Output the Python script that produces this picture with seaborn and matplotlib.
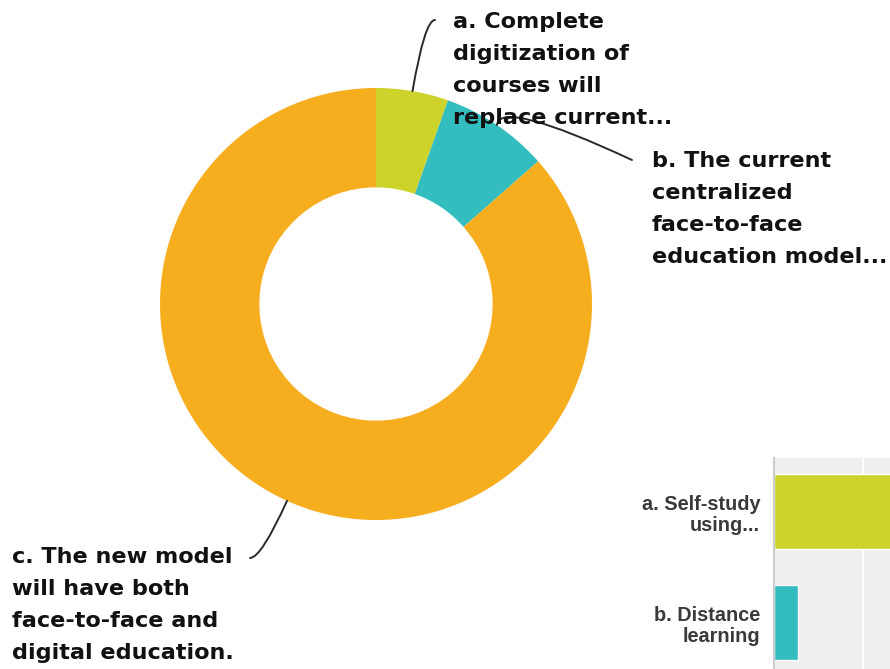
import numpy as np
import pandas as pd
import matplotlib
matplotlib.use("Agg")
import matplotlib.pyplot as plt
import seaborn as sns

# donut: answers of 37 respondents
pie_labels = [
    "a. Complete\ndigitization of\ncourses will\nreplace current...",
    "b. The current\ncentralized\nface-to-face\neducation model...",
    "c. The new model\nwill have both\nface-to-face and\ndigital education.",
]
pie_counts = [2, 3, 32]
pie_colors = ["#cdd32a", "#34bdbe", "#f6ae1f"]

# second panel (bar chart, cut off at the right edge of the picture)
bar_labels = ["a. Self-study\nusing...", "b. Distance\nlearning"]
bar_values = [40.5, 2.7]
bar_colors = ["#cdd32a", "#34bdbe"]

W, H = 890, 669


def fx(x):
    return x / W


def fy(y):
    return 1 - y / H


# label layout in pixels: text left / first baseline, leader end, angle at leader end
text_pos = [(453, 28), (652, 167), (12, 563)]
leader_ends = [(435, 20), (632, 160), (250, 558)]
leader_end_angles = [0, 155, 0]
leader_start_tilt = [0, 28, 0]  # bend leader away from the radial direction
line_step = 32

sns.set_theme(style="white")
plt.rcParams["font.family"] = ["DejaVu Sans"]

fig = plt.figure(figsize=(W / 100, H / 100), dpi=100)

# ---- donut ----
ax = fig.add_axes([fx(160), fy(520), 432 / W, 432 / H])
ax.pie(pie_counts, colors=pie_colors, startangle=90, counterclock=False,
       radius=1, wedgeprops=dict(width=0.46, linewidth=0))
ax.set_xlim(-1, 1)
ax.set_ylim(-1, 1)
ax.set_aspect("equal")
ax.axis("off")

fracs = np.array(pie_counts) / sum(pie_counts)
mids = (np.cumsum(fracs) - fracs / 2) * 360  # clockwise from 12 o'clock
for i, m in enumerate(mids):
    ang = 90 - m
    xy = (np.cos(np.radians(ang)), np.sin(np.radians(ang)))
    ex, ey = leader_ends[i]
    ax.annotate("", xy=xy, xycoords="data", xytext=(ex, H - ey),
                textcoords="figure pixels", annotation_clip=False,
                arrowprops=dict(arrowstyle="-", color="#2a2a2a", lw=1.4,
                                shrinkA=0, shrinkB=0,
                                connectionstyle="angle3,angleA=%g,angleB=%g"
                                % (leader_end_angles[i], ang + leader_start_tilt[i])))

for i, lab in enumerate(pie_labels):
    x0, y0 = text_pos[i]
    for k, line in enumerate(lab.split("\n")):
        fig.text(fx(x0), fy(y0 + k * line_step), line, ha="left", va="baseline",
                 fontsize=16.1, fontweight="bold", color="#111111",
                 family=["DejaVu Sans"], zorder=5)

# ---- bar panel ----
bax = fig.add_axes([fx(774), fy(791), 1.0, 333 / H])
df = pd.DataFrame({"answer": bar_labels, "pct": bar_values})
sns.barplot(data=df, x="pct", y="answer", hue="answer", palette=bar_colors,
            width=0.675, saturation=1, legend=False, ax=bax)
bax.set_facecolor("#efefef")
bax.set_xlim(0, 100)
bax.set_ylim(2.514, -0.486)
bax.set_xticks(np.arange(10, 100, 10))
bax.xaxis.grid(True, color="white", lw=1.5)
bax.set_axisbelow(True)
bax.tick_params(axis="x", length=0, labelbottom=False)
bax.tick_params(axis="y", length=0, pad=10)
bax.set_yticks([0, 1])
bax.set_yticklabels(bar_labels, fontsize=14.3, fontweight="bold", color="#3a3a3a",
                    linespacing=1.15, family=["Liberation Sans", "DejaVu Sans"])
bax.set_xlabel("")
bax.set_ylabel("")
for s in ["top", "right", "bottom"]:
    bax.spines[s].set_visible(False)
bax.spines["left"].set_color("#cccccc")
bax.spines["left"].set_linewidth(1.5)

fig.savefig("out.png", dpi=100)
